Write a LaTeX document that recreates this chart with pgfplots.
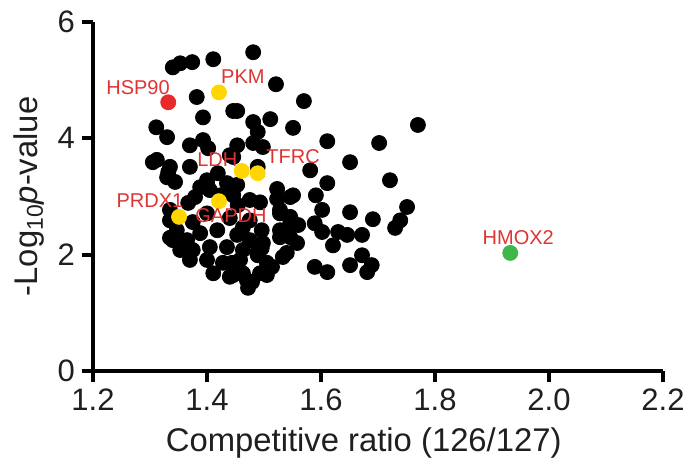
\documentclass[border=0pt]{standalone}
\usepackage{pgfplots}
\pgfplotsset{compat=1.18}
\usepackage{fontspec}
\setmainfont{Liberation Sans}
\definecolor{dotred}{RGB}{232,42,42}
\definecolor{labred}{RGB}{222,52,52}
\definecolor{dotyel}{RGB}{255,214,0}
\definecolor{dotgrn}{RGB}{62,182,72}
\begin{document}
\begin{tikzpicture}
\begin{axis}[
  scale only axis, width=285pt, height=174.5pt,
  xmin=1.2, xmax=2.2, ymin=0, ymax=6,
  axis x line=bottom, axis y line=left,
  axis line style={line width=2pt,-},
  every tick/.style={line width=2pt,black},
  tick align=outside, major tick length=5.5pt,
  xtick={1.2,1.4,1.6,1.8,2.0,2.2}, ytick={0,2,4,6},
  xticklabel style={/pgf/number format/fixed,/pgf/number format/fixed zerofill,/pgf/number format/precision=1},
  /pgf/number format/assume math mode=true,
  tick label style={font=\fontsize{15.5}{18}\selectfont, text=black!88},
  xlabel={Competitive ratio (126/127)},
  ylabel={-Log\textsubscript{10}\textit{p}-value},
  every axis x label/.style={at={(axis description cs:0.475,-0.232)}, anchor=base, font=\fontsize{16.4}{19}\selectfont, text=black!88},
  every axis y label/.style={at={(axis description cs:-0.112,0.5)}, anchor=center, rotate=90, font=\fontsize{16.4}{19}\selectfont, text=black!88},
  clip=false,
]
\coordinate (o) at (rel axis cs:0,0);
\addplot[only marks, mark=*, mark size=3.75pt, color=black] coordinates {
(1.481,5.48) (1.411,5.36) (1.340,5.22) (1.353,5.29) (1.374,5.31) (1.382,4.71) (1.521,4.93) (1.570,4.64)
(1.446,4.47) (1.453,4.47) (1.393,4.36) (1.481,4.28) (1.511,4.33) (1.551,4.18) (1.489,4.11) (1.770,4.23)
(1.311,4.19) (1.330,4.02) (1.393,3.97) (1.402,3.83) (1.481,3.92) (1.498,3.85) (1.611,3.95) (1.702,3.92)
(1.453,3.88) (1.370,3.88) (1.312,3.63) (1.335,3.51) (1.440,3.71) (1.651,3.59) (1.581,3.45) (1.721,3.28)
(1.611,3.23) (1.751,2.82) (1.739,2.59) (1.730,2.46) (1.691,2.61) (1.651,2.73) (1.602,2.77) (1.591,3.02)
(1.551,3.02) (1.523,3.13) (1.523,2.96) (1.589,2.54) (1.602,2.39) (1.630,2.39) (1.646,2.34) (1.672,2.34)
(1.621,2.16) (1.672,1.99) (1.689,1.82) (1.681,1.70) (1.651,1.82) (1.589,1.79) (1.611,1.70) (1.528,2.71)
(1.546,2.54) (1.560,2.51) (1.528,2.30) (1.558,2.20) (1.540,2.03) (1.514,1.79) (1.505,1.65) (1.479,1.53)
(1.472,1.43) (1.496,2.42) (1.489,1.99) (1.444,1.86) (1.411,1.68) (1.446,1.65) (1.463,2.47) (1.475,2.94)
(1.453,3.20) (1.419,3.40) (1.400,3.28) (1.330,3.33) (1.344,3.25) (1.370,3.51) (1.388,3.16) (1.379,2.99)
(1.367,2.89) (1.400,3.23) (1.435,3.23) (1.446,3.02) (1.454,2.85) (1.493,2.90) (1.400,2.71) (1.375,2.56)
(1.440,2.63) (1.475,2.59) (1.347,2.42) (1.335,2.29) (1.365,2.25) (1.388,2.37) (1.418,2.42)
(1.453,2.34) (1.475,2.25) (1.498,2.20) (1.353,2.08) (1.375,2.08) (1.405,2.13) (1.435,2.13) (1.463,2.08)
(1.488,2.03) (1.370,1.91) (1.400,1.91) (1.428,1.86) (1.458,1.91) (1.505,1.86) (1.440,1.62) (1.470,1.56)
(1.493,1.68) (1.511,1.79) (1.546,2.99) (1.528,2.77) (1.546,2.65) (1.528,2.42) (1.546,2.30) (1.533,1.96)
(1.305,3.59) (1.332,3.42) (1.335,2.59) (1.340,2.25) (1.335,2.77) (1.446,3.68) (1.489,3.51) (1.463,1.68)
(1.507,1.74) (1.496,2.11) (1.423,3.02) (1.405,3.11)
};
\addplot[only marks, mark=*, mark size=3.75pt, color=dotred] coordinates {(1.332,4.62)};
\addplot[only marks, mark=*, mark size=3.75pt, color=dotyel] coordinates {
(1.421,4.79) (1.461,3.44) (1.489,3.40) (1.421,2.92) (1.351,2.65)};
\addplot[only marks, mark=*, mark size=3.75pt, color=dotgrn] coordinates {(1.932,2.03)};
\coordinate (lHSP) at (axis cs:1.279,4.88);
\coordinate (lPKM) at (axis cs:1.463,5.06);
\coordinate (lLDH) at (axis cs:1.418,3.63);
\coordinate (lTFRC) at (axis cs:1.551,3.68);
\coordinate (lPRDX) at (axis cs:1.300,2.93);
\coordinate (lGAPDH) at (axis cs:1.442,2.67);
\coordinate (lHMOX) at (axis cs:1.946,2.30);
\end{axis}
\begin{scope}[every node/.style={font=\fontsize{10}{12}\selectfont, text=labred, inner sep=0pt}]
\node at (lHSP) {HSP90};
\node at (lPKM) {PKM};
\node at (lLDH) {LDH};
\node at (lTFRC) {TFRC};
\node at (lPRDX) {PRDX1};
\node at (lGAPDH) {GAPDH};
\node at (lHMOX) {HMOX2};
\end{scope}
\pgfresetboundingbox
\path[use as bounding box] ([shift={(-46.5pt,-45pt)}]o) rectangle ([shift={(297.5pt,185.5pt)}]o);
\end{tikzpicture}
\end{document}
